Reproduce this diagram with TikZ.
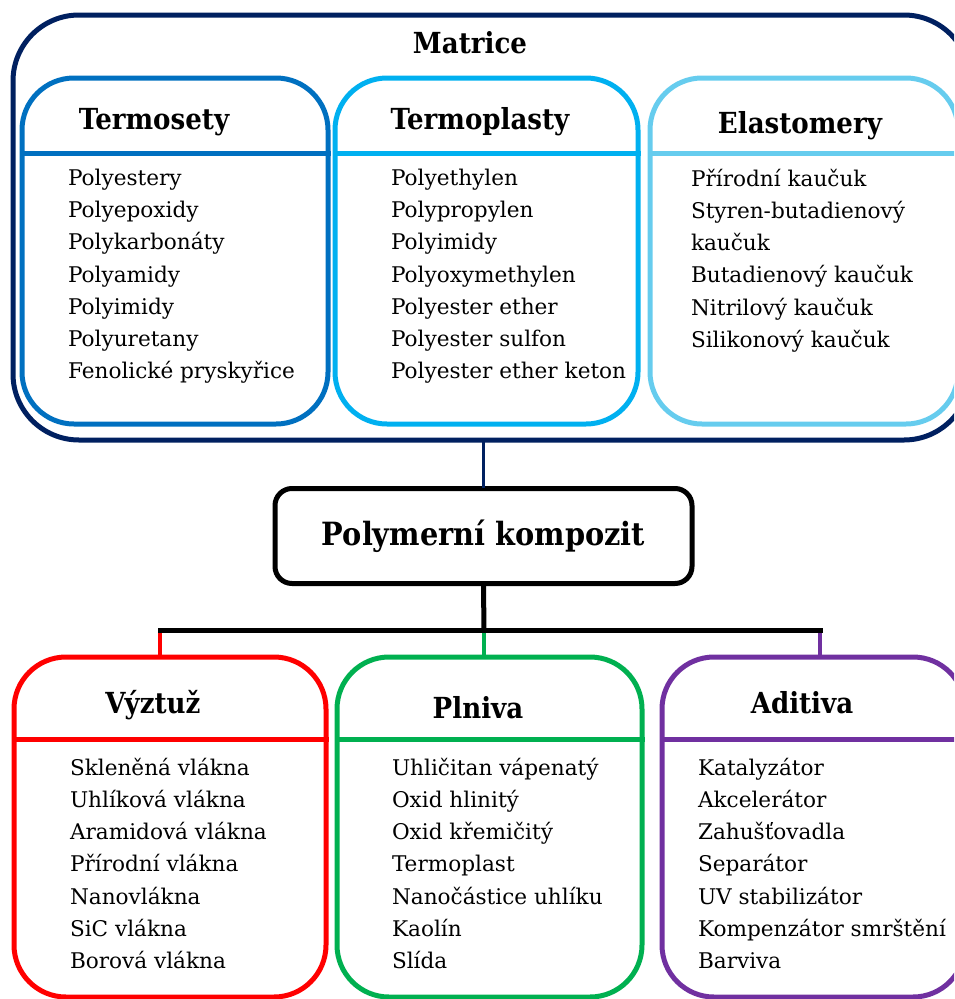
\documentclass[tikz,border=0pt]{standalone}
\usepackage{fontspec}
\setmainfont{DejaVu Serif}
\newfontfamily\headfont[FakeStretch=0.9]{DejaVu Serif}
\usetikzlibrary{positioning}

\begin{document}
\begin{tikzpicture}[x=1pt,y=-1pt,line cap=rect]
\definecolor{col_navy}{RGB}{0, 32, 96}
\definecolor{col_tms}{RGB}{0, 112, 192}
\definecolor{col_tmp}{RGB}{0, 176, 240}
\definecolor{col_ela}{RGB}{102, 204, 238}
\definecolor{col_vyz}{RGB}{255, 0, 0}
\definecolor{col_pln}{RGB}{0, 176, 80}
\definecolor{col_adi}{RGB}{112, 48, 160}
\tikzset{
  groupbox/.style={draw=#1, line width=5pt, rounded corners=52pt, inner sep=0, outer sep=0},
  headtext/.style={inner sep=0, outer sep=0, anchor=base, font=\headfont\fontsize{29}{29}\bfseries\selectfont},
  listtext/.style={inner sep=0, outer sep=0, anchor=north west, align=left, font=\fontsize{21.6}{32.2}\selectfont},
  stem/.style={line width=3.5pt, #1}
}
\useasboundingbox (0,0) rectangle (954,999);
\clip (0,0) rectangle (954,999);
% Matrice
\node[groupbox=col_navy, rounded corners=66pt, minimum width=957, minimum height=425] (mat) at (491.5,227.5) {};
\node[headtext] (mat-title) at (470,53) {Matrice};
\node[groupbox=col_tms, minimum width=306, minimum height=346] (tms) at (175,251) {};
\node[groupbox=col_tmp, minimum width=303, minimum height=346] (tmp) at (486.5,251) {};
\node[groupbox=col_ela, minimum width=308, minimum height=346] (ela) at (804,251) {};
\draw[line width=5pt, col_tms] (tms.west |- 0,153) -- (tms.east |- 0,153);
\draw[line width=5pt, col_tmp] (tmp.west |- 0,153) -- (tmp.east |- 0,153);
\draw[line width=5pt, col_ela] (ela.west |- 0,153) -- (ela.east |- 0,153);
\node[headtext] (tms-title) at (154,129) {Termosety};
\node[headtext] (tmp-title) at (480,129) {Termoplasty};
\node[headtext] (ela-title) at (800,133) {Elastomery};
\node[listtext] (tms-list) at (68,169) {Polyestery\\Polyepoxidy\\Polykarbonáty\\Polyamidy\\Polyimidy\\Polyuretany\\Fenolické pryskyřice};
\node[listtext] (tmp-list) at (391,169) {Polyethylen\\Polypropylen\\Polyimidy\\Polyoxymethylen\\Polyester ether\\Polyester sulfon\\Polyester ether keton};
\node[listtext] (ela-list) at (691,169) {Přírodní kaučuk\\Styren-butadienový\\kaučuk\\Butadienový kaučuk\\Nitrilový kaučuk\\Silikonový kaučuk};

% Polymerni kompozit
\node[draw=black, line width=5pt, rounded corners=17pt, minimum width=417, minimum height=95, inner sep=0,
      font=\headfont\fontsize{32}{32}\bfseries\selectfont] (komp) at (483.5,536) {Polymerní kompozit};
\draw[stem=col_navy] (komp.north) -- (komp.north |- mat.south);

% Vyztuz, Plniva, Aditiva
\node[groupbox=col_vyz, minimum width=312, minimum height=340] (vyz) at (170,827) {};
\node[groupbox=col_pln, minimum width=305, minimum height=340] (pln) at (489.5,827) {};
\node[groupbox=col_adi, minimum width=303, minimum height=340] (adi) at (813.5,827) {};
\draw[line width=5pt, col_vyz] (vyz.west |- 0,739) -- (vyz.east |- 0,739);
\draw[line width=5pt, col_pln] (pln.west |- 0,739) -- (pln.east |- 0,739);
\draw[line width=5pt, col_adi] (adi.west |- 0,739) -- (adi.east |- 0,739);
\node[headtext] (vyz-title) at (153,713) {Výztuž};
\node[headtext] (pln-title) at (478,718) {Plniva};
\node[headtext] (adi-title) at (802,713) {Aditiva};
\node[listtext] (vyz-list) at (70,758) {Skleněná vlákna\\Uhlíková vlákna\\Aramidová vlákna\\Přírodní vlákna\\Nanovlákna\\SiC vlákna\\Borová vlákna};
\node[listtext] (pln-list) at (392,758) {Uhličitan vápenatý\\Oxid hlinitý\\Oxid křemičitý\\Termoplast\\Nanočástice uhlíku\\Kaolín\\Slída};
\node[listtext] (adi-list) at (698,758) {Katalyzátor\\Akcelerátor\\Zahušťovadla\\Separátor\\UV stabilizátor\\Kompenzátor smrštění\\Barviva};

% tree below the composite
\coordinate (jL) at (160,630);
\coordinate (jM) at (484,630);
\coordinate (jR) at (820,630);
\draw[stem=col_vyz] (jL) -- (jL |- vyz.north);
\draw[stem=col_pln] (jM) -- (jM |- pln.north);
\draw[stem=col_adi] (jR) -- (jR |- adi.north);
\draw[line width=5pt, black] (komp.south) -- (jM);
\draw[line width=5pt, black] (jL) -- (jR);
\end{tikzpicture}
\end{document}
